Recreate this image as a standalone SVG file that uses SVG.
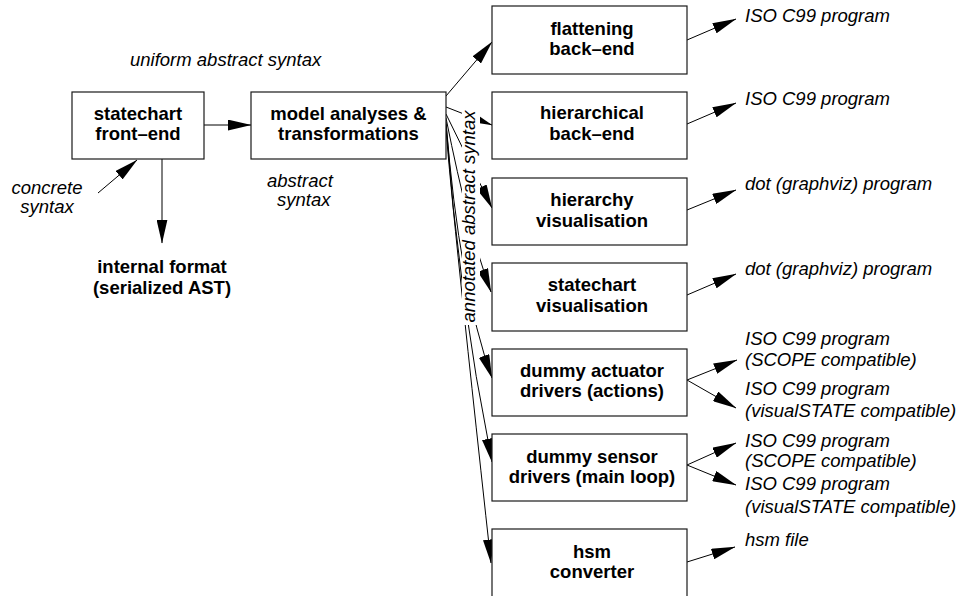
<svg xmlns="http://www.w3.org/2000/svg" width="962" height="596" viewBox="0 0 962 596">
  <style>
    .box { fill: #fff; stroke: #1a1a1a; stroke-width: 1.2; }
    .bold { font-family: "Liberation Sans", Arial, Helvetica, sans-serif; font-size: 18.5px; font-weight: bold; fill: #000; text-anchor: middle; }
    .ital { font-family: "Liberation Sans", Arial, Helvetica, sans-serif; font-size: 18.5px; font-style: italic; fill: #000; }
    .edge { fill: none; stroke: #000; stroke-width: 1; marker-end: url(#arrow); }
  </style>
  <defs>
    <marker id="arrow" viewBox="0 0 24 11" markerWidth="24" markerHeight="11" refX="23.5" refY="5.5" orient="auto" markerUnits="userSpaceOnUse">
      <path d="M0,0 L24,5.5 L0,11 Z" fill="#000"/>
    </marker>
  </defs>
  <rect width="962" height="596" fill="#fff"/>

  <!-- connectors -->
  <g id="connectors">
    <line class="edge" x1="98" y1="193" x2="137" y2="160"/>
    <line class="edge" x1="204" y1="125" x2="251" y2="125"/>
    <line class="edge" x1="162" y1="159" x2="162" y2="243"/>
    <!-- fan of annotated abstract syntax -->
    <line class="edge" x1="446" y1="96" x2="492" y2="42"/>
    <line class="edge" x1="446" y1="107" x2="492" y2="125"/>
    <line class="edge" x1="446" y1="114" x2="492" y2="208"/>
    <path class="edge" d="M446,118 Q468.8,232 491,292"/>
    <path class="edge" d="M446,122 Q459.2,287 492,378"/>
    <path class="edge" d="M446,124 Q457.6,290 492,462"/>
    <path class="edge" d="M446,126 Q447.8,170 491,563"/>
    <!-- outputs -->
    <line class="edge" x1="687" y1="40" x2="736" y2="19"/>
    <line class="edge" x1="687" y1="124" x2="736" y2="103"/>
    <line class="edge" x1="687" y1="210" x2="736" y2="190"/>
    <line class="edge" x1="687" y1="295" x2="736" y2="274"/>
    <line class="edge" x1="687" y1="380" x2="737" y2="360"/>
    <line class="edge" x1="687" y1="380" x2="736" y2="408"/>
    <line class="edge" x1="687" y1="465" x2="736" y2="443"/>
    <line class="edge" x1="687" y1="465" x2="736" y2="485"/>
    <line class="edge" x1="687" y1="562" x2="735" y2="547"/>
  </g>

  <!-- edge label over the fan -->
  <g id="fan-label">
    <rect x="462" y="108" width="18" height="217" fill="#fff"/>
    <text class="ital" text-anchor="middle" transform="translate(475,216.5) rotate(-90)">annotated abstract syntax</text>
  </g>

  <!-- free labels -->
  <g id="labels">
    <text class="ital" x="130" y="66">uniform abstract syntax</text>
    <text class="ital" x="47" y="194" text-anchor="middle">concrete</text>
    <text class="ital" x="47" y="213" text-anchor="middle">syntax</text>
    <text class="ital" x="267" y="187">abstract</text>
    <text class="ital" x="277" y="206">syntax</text>
    <text class="bold" x="162" y="273">internal format</text>
    <text class="bold" x="162" y="294">(serialized AST)</text>
    <text class="ital" x="745" y="21.5">ISO C99 program</text>
    <text class="ital" x="745" y="104.5">ISO C99 program</text>
    <text class="ital" x="745" y="189.5">dot (graphviz) program</text>
    <text class="ital" x="745" y="274.5">dot (graphviz) program</text>
    <text class="ital" x="745" y="345">ISO C99 program</text>
    <text class="ital" x="745" y="366">(SCOPE compatible)</text>
    <text class="ital" x="745" y="395">ISO C99 program</text>
    <text class="ital" x="745" y="417">(visualSTATE compatible)</text>
    <text class="ital" x="745" y="447">ISO C99 program</text>
    <text class="ital" x="745" y="467">(SCOPE compatible)</text>
    <text class="ital" x="745" y="490">ISO C99 program</text>
    <text class="ital" x="745" y="513">(visualSTATE compatible)</text>
    <text class="ital" x="745" y="546">hsm file</text>
  </g>

  <!-- nodes -->
  <g id="frontend">
    <rect class="box" x="72" y="92" width="132" height="67"/>
    <text class="bold" x="138" y="119.5">statechart</text>
    <text class="bold" x="138" y="140">front–end</text>
  </g>
  <g id="analyses">
    <rect class="box" x="251" y="92" width="195" height="67"/>
    <text class="bold" x="348.5" y="119.5">model analyses &amp;</text>
    <text class="bold" x="348.5" y="140">transformations</text>
  </g>
  <g id="flattening">
    <rect class="box" x="492" y="6" width="195" height="68"/>
    <text class="bold" x="592" y="35">flattening</text>
    <text class="bold" x="592" y="55">back–end</text>
  </g>
  <g id="hierarchical">
    <rect class="box" x="492" y="92" width="195" height="67"/>
    <text class="bold" x="592" y="119">hierarchical</text>
    <text class="bold" x="592" y="140">back–end</text>
  </g>
  <g id="hierarchy-vis">
    <rect class="box" x="492" y="178" width="195" height="67"/>
    <text class="bold" x="592" y="206">hierarchy</text>
    <text class="bold" x="592" y="226.5">visualisation</text>
  </g>
  <g id="statechart-vis">
    <rect class="box" x="492" y="263" width="195" height="68"/>
    <text class="bold" x="592" y="291">statechart</text>
    <text class="bold" x="592" y="311.5">visualisation</text>
  </g>
  <g id="actuator-drivers">
    <rect class="box" x="492" y="349" width="195" height="67"/>
    <text class="bold" x="592" y="376.5">dummy actuator</text>
    <text class="bold" x="592" y="396.5">drivers (actions)</text>
  </g>
  <g id="sensor-drivers">
    <rect class="box" x="492" y="434" width="195" height="67"/>
    <text class="bold" x="592" y="463">dummy sensor</text>
    <text class="bold" x="592" y="483">drivers (main loop)</text>
  </g>
  <g id="hsm-converter">
    <rect class="box" x="492" y="529" width="195" height="70"/>
    <text class="bold" x="592" y="558">hsm</text>
    <text class="bold" x="592" y="578">converter</text>
  </g>
</svg>
